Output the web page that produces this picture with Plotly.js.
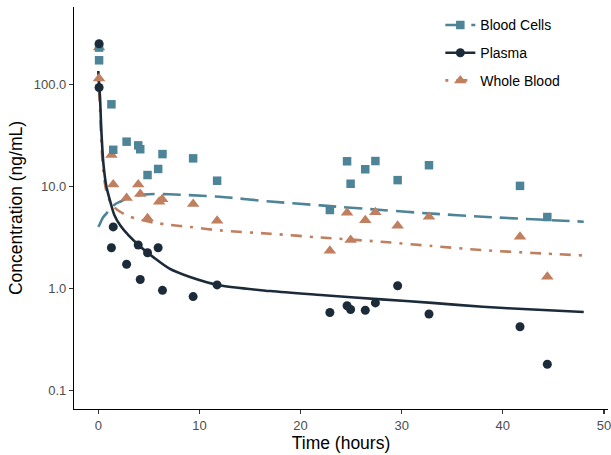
<!DOCTYPE html>
<html>
<head>
<meta charset="utf-8">
<script src="https://cdn.plot.ly/plotly-3.0.1.min.js"></script>
<style>html,body{margin:0;padding:0;background:#fff;}#chart{width:611px;height:455px;}</style>
</head>
<body>
<div id="chart"></div>
<script>
// Observed sampling times (hours)
const obsTime = [0.08, 0.08, 1.3, 1.48, 2.8, 3.95, 4.15, 4.87, 5.92, 6.35, 9.38, 11.75,
                 22.9, 24.6, 24.95, 26.4, 27.4, 29.6, 32.7, 41.7, 44.4];
const obsTimeWB = [0.08, 0.08, 1.3, 1.48, 2.8, 3.95, 4.15, 4.87, 6.02, 6.32, 9.38, 11.75,
                   22.9, 24.6, 24.95, 26.4, 27.4, 29.6, 32.7, 41.7, 44.4];
// Observed concentrations (ng/mL)
const bloodCellsObs = [229, 172, 63.7, 22.8, 27.4, 25.2, 23.1, 12.9, 14.8, 20.7, 18.8, 11.35,
                       5.86, 17.6, 10.6, 14.7, 17.7, 11.5, 16.1, 10.1, 5.0];
const plasmaObs = [250, 93, 2.5, 4.0, 1.72, 2.66, 1.22, 2.23, 2.5, 0.955, 0.83, 1.08,
                   0.58, 0.675, 0.62, 0.61, 0.72, 1.06, 0.56, 0.42, 0.18];
const wholeBloodObs = [230, 114, 20.3, 10.4, 7.7, 10.4, 8.4, 4.86, 7.06, 7.46, 6.7, 4.6,
                       2.34, 5.51, 2.98, 4.64, 5.56, 4.11, 5.04, 3.2, 1.3];
// Fitted model curves
const fitTime = [0, 0.17, 0.3, 0.5, 0.8, 1.2, 1.6, 2.2, 3, 4, 5.5, 7, 9, 12, 17, 22, 28, 33, 38, 43, 48];
const bloodCellsFit = [4.0, 4.3, 4.6, 5.0, 5.4, 6.0, 6.6, 7.1, 7.7, 8.2, 8.4, 8.35, 8.2, 7.9, 7.1, 6.5, 5.86, 5.4, 5.03, 4.75, 4.5];
const plasmaFit = [135, 75, 36, 17, 10, 7.0, 5.2, 4.1, 3.3, 2.65, 2.0, 1.57, 1.30, 1.07, 0.94, 0.86, 0.78, 0.72, 0.66, 0.62, 0.586];
const wholeBloodFit = [112, 60, 28, 14, 9.0, 7.0, 6.2, 5.6, 5.1, 4.75, 4.4, 4.2, 4.0, 3.7, 3.43, 3.15, 2.86, 2.6, 2.37, 2.22, 2.1];
// Series names and ticks
const seriesNames = ["Blood Cells", "Plasma", "Whole Blood"];
const yTickVals = [0.1, 1, 10, 100];
const yTickText = ["0.1", "1.0", "10.0", "100.0"];
const xTickVals = [0, 10, 20, 30, 40, 50];

const cBC = "#4d8497", cPL = "#1c2b39", cWB = "#c07f5f";
const dashBC = "18px,8px", dashWB = "3px,8px,11px,8px";
const font = "Liberation Sans, Arial, sans-serif";

const traces = [
  {x: fitTime, y: wholeBloodFit, mode: "lines", line: {color: cWB, width: 2.6, dash: dashWB, shape: "spline", smoothing: 0.8}, showlegend: false, hoverinfo: "skip"},
  {x: fitTime, y: bloodCellsFit, mode: "lines", line: {color: cBC, width: 2.6, dash: dashBC, shape: "spline", smoothing: 0.8}, showlegend: false, hoverinfo: "skip"},
  {x: fitTime, y: plasmaFit, mode: "lines", line: {color: cPL, width: 2.6, shape: "spline", smoothing: 0.8}, showlegend: false, hoverinfo: "skip"},
  {x: obsTimeWB, y: wholeBloodObs, mode: "markers", marker: {symbol: "triangle-up", size: 11, color: cWB}, showlegend: false},
  {x: obsTime, y: bloodCellsObs, mode: "markers", marker: {symbol: "square", size: 8.5, color: cBC}, showlegend: false},
  {x: obsTime, y: plasmaObs, mode: "markers", marker: {symbol: "circle", size: 9, color: cPL}, showlegend: false},
  // legend entries
  {x: [null], y: [null], name: seriesNames[0], mode: "lines+markers", line: {color: cBC, width: 2.6, dash: dashBC}, marker: {symbol: "square", size: 8.5, color: cBC}, legendgroup: "a"},
  {x: [null], y: [null], name: seriesNames[1], mode: "lines+markers", line: {color: cPL, width: 2.6}, marker: {symbol: "circle", size: 9, color: cPL}, legendgroup: "b"},
  {x: [null], y: [null], name: seriesNames[2], mode: "lines+markers", line: {color: cWB, width: 2.6, dash: dashWB}, marker: {symbol: "triangle-up", size: 11, color: cWB}, legendgroup: "c"}
];

const layout = {
  width: 611, height: 455,
  margin: {l: 74, r: 3, t: 7, b: 46, pad: 0},
  paper_bgcolor: "#fff", plot_bgcolor: "#fff",
  font: {family: font, size: 13, color: "#4d4d4d"},
  xaxis: {
    range: [-2.4, 50.4], tickvals: xTickVals, ticks: "outside", ticklen: 4, tickwidth: 1.1, tickcolor: "#333",
    showline: true, linecolor: "#000", linewidth: 1.1, showgrid: false, zeroline: false,
    tickfont: {size: 13, color: "#4d4d4d"}, ticklabeloverflow: "allow",
    title: {text: "Time (hours)", font: {size: 17.5, color: "#000"}, standoff: 5}
  },
  yaxis: {
    type: "log", range: [-1.183, 2.758], tickvals: yTickVals, ticktext: yTickText,
    ticks: "outside", ticklen: 4, tickwidth: 1.1, tickcolor: "#333",
    showline: true, linecolor: "#000", linewidth: 1.1, showgrid: false, zeroline: false,
    tickfont: {size: 13, color: "#4d4d4d"},
    title: {text: "Concentration (ng/mL)", font: {size: 17.5, color: "#000"}, standoff: 6}
  },
  legend: {x: 0.686, y: 0.994, xanchor: "left", yanchor: "top", font: {size: 14, color: "#000"},
           bgcolor: "rgba(0,0,0,0)", traceorder: "grouped", tracegroupgap: 6.5, itemwidth: 30},
  showlegend: true
};

Plotly.newPlot("chart", traces, layout, {staticPlot: true, displayModeBar: false});
</script>
</body>
</html>
